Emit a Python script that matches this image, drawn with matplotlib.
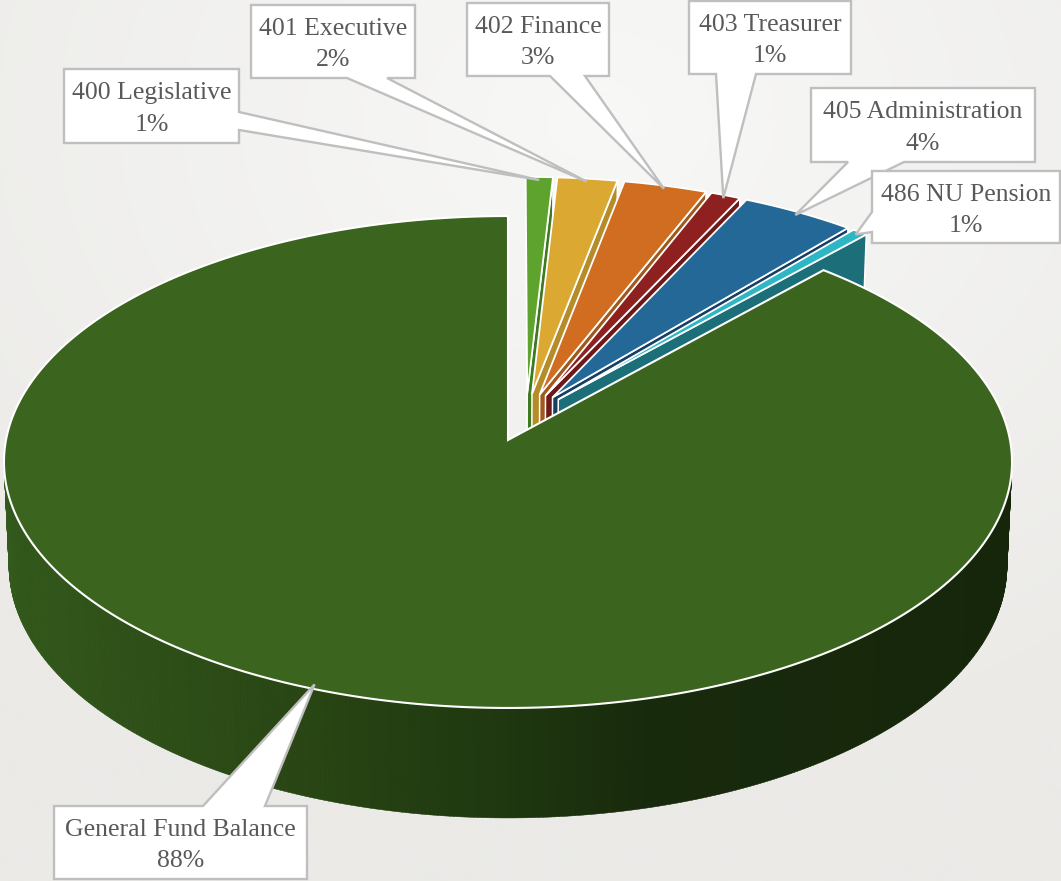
import numpy as np
import matplotlib
matplotlib.use('Agg')
import matplotlib.pyplot as plt
from matplotlib.colors import LinearSegmentedColormap, to_rgb
from matplotlib.patches import Polygon

# Budget shares, clockwise from twelve o'clock
names = ['400 Legislative', '401 Executive', '402 Finance', '403 Treasurer',
         '405 Administration', '486 NU Pension', 'General Fund Balance']
shares = [0.96, 2.12, 2.95, 1.06, 4.05, 0.55, 88.31]
top_colors = ['#5fa32f', '#dba932', '#d06d20', '#8f2020', '#246897', '#2fb6c4',
              '#3b641e']
face_colors = ['#3f7a22', '#b58c28', '#a0591c', '#6e1818', '#173f63', '#1c6f78',
               '#294614']

# Callout boxes: left, right, top, bottom, then the two ends of the pointer base
boxes = [(64, 239, 69, 143, (239, 112), (239, 130)),
         (251, 415, 5, 78, (347, 78), (387, 78)),
         (467, 609, 3, 76, (550, 76), (585, 76)),
         (689, 851, 1, 74, (716, 74), (756, 74)),
         (811, 1035, 88, 162, (848, 162), (904, 162)),
         (872, 1060, 171, 243, (872, 212), (872, 232)),
         (54, 307, 806, 879, (203, 806), (265, 806))]

# Pie projection, pixels
CX, CY = 508, 440
RX, RY = 502, 244
PERSP = 0.0894
EXPLODE = 0.1
GREY = '#bfbfbf'
TEXT = '#595959'


def project(u, v):
    w = 1 + PERSP * v
    return CX + RX * u / w, CY - RY * v / w


def lower(u, v):
    # same disc point on the underside of the pie
    x, y = project(u, v)
    return CX + (x - CX) * 0.99, y + 103 - 7 * v


def direction(a):
    return np.sin(a), np.cos(a)


fractions = np.array(shares) / sum(shares)
edges = np.concatenate([[0], np.cumsum(fractions)]) * 2 * np.pi
mids = (edges[:-1] + edges[1:]) / 2

# The last slice keeps its tip on the origin, the others shift away from it
mu, mv = direction(mids[-1])
apexes = [(EXPLODE * (np.sin(m) - mu), EXPLODE * (np.cos(m) - mv)) for m in mids]

fig = plt.figure(figsize=(10.61, 8.81), dpi=100)
ax = fig.add_axes([0, 0, 1, 1])
ax.set_xlim(0, 1061)
ax.set_ylim(881, 0)
ax.axis('off')

# soft background glow
yy, xx = np.mgrid[0:881:3j * 147, 0:1061:3j * 177]
dist = np.clip(np.hypot((xx - 600) / 1000, (yy - 120) / 800), 0, 1)
bg = LinearSegmentedColormap.from_list('bg', ['#f7f7f6', '#ebeae7'])
ax.imshow(dist, extent=(0, 1061, 881, 0), cmap=bg, vmin=0.05, vmax=0.85,
          aspect='auto', zorder=0)

# small slices: cut face then top
for i in range(len(shares) - 1):
    au, av = apexes[i]
    t = np.linspace(edges[i], edges[i + 1], 40)
    ru, rv = au + np.sin(t), av + np.cos(t)
    eu, ev = ru[-1], rv[-1]
    face = [project(au, av), project(eu, ev), lower(eu, ev), lower(au, av)]
    ax.add_patch(Polygon(face, closed=True, fc=face_colors[i], ec='white', lw=1.1,
                         zorder=2 + i))
    top = [project(au, av)] + [project(a, b) for a, b in zip(ru, rv)]
    ax.add_patch(Polygon(top, closed=True, fc=top_colors[i], ec='white', lw=1.3,
                         zorder=2 + i))

# big slice wall, shaded in strips from left to right
wall_x = [0, 150, 300, 500, 650, 1012]
wall_c = ['#345a1c', '#2f5019', '#294614', '#1f3810', '#182a0c', '#16260b']
wall_rgb = np.array([to_rgb(c) for c in wall_c])
t = np.linspace(edges[-2], edges[-1], 1500)
ru, rv = np.sin(t), np.cos(t)
px, py = project(ru, rv)
front = np.argmin(px), np.argmax(px)
lo, hi = min(front), max(front)
tw = np.linspace(t[hi], t[lo], 400)
u_w, v_w = np.sin(tw), np.cos(tw)
tx, ty = project(u_w, v_w)
bx, by = lower(u_w, v_w)
outline = list(zip(tx, ty)) + list(zip(bx[::-1], by[::-1]))
ax.add_patch(Polygon(outline, closed=True, fc='#1f3810', ec='white', lw=0.9, zorder=10))
for j in range(len(tw) - 1):
    xm = (tx[j] + tx[j + 1]) / 2
    col = [np.interp(xm, wall_x, wall_rgb[:, k]) for k in range(3)]
    quad = [(tx[j], ty[j]), (tx[j + 1], ty[j + 1]), (bx[j + 1], by[j + 1]), (bx[j], by[j])]
    ax.add_patch(Polygon(quad, closed=True, fc=col, ec=col, lw=0.4, zorder=11))

# big slice top
top = [project(0, 0)] + list(zip(px, py))
ax.add_patch(Polygon(top, closed=True, fc=top_colors[-1], ec='white', lw=1.5, zorder=12))

# callouts
for i, (name, share) in enumerate(zip(names, shares)):
    l, r, tp, b, p0, p1 = boxes[i]
    au, av = apexes[i]
    su, sv = direction(mids[i])
    tip = project(au + 0.985 * su, av + 0.985 * sv)
    # walk the box clockwise and splice the pointer into the side it sits on
    if p0[0] == p1[0] == r:
        pts = [(l, tp), (r, tp), p0, tip, p1, (r, b), (l, b)]
    elif p0[0] == p1[0] == l:
        pts = [(l, tp), (r, tp), (r, b), (l, b), p1, tip, p0]
    elif p0[1] == p1[1] == b:
        pts = [(l, tp), (r, tp), (r, b), p1, tip, p0, (l, b)]
    else:
        pts = [(l, tp), p0, tip, p1, (r, tp), (r, b), (l, b)]
    ax.add_patch(Polygon(pts, closed=True, fc='white', ec=GREY, lw=1.7,
                         joinstyle='miter', zorder=20 + i))
    xc = (l + r) / 2
    ax.text(xc, tp + 0.33 * (b - tp), name, ha='center', va='center', fontsize=18.5,
            family='Liberation Serif', color=TEXT, zorder=20 + i)
    ax.text(xc, tp + 0.76 * (b - tp), '%d%%' % round(share), ha='center', va='center',
            fontsize=18.5, family='Liberation Serif', color=TEXT, zorder=20 + i)

fig.savefig('out.png', dpi=100)
